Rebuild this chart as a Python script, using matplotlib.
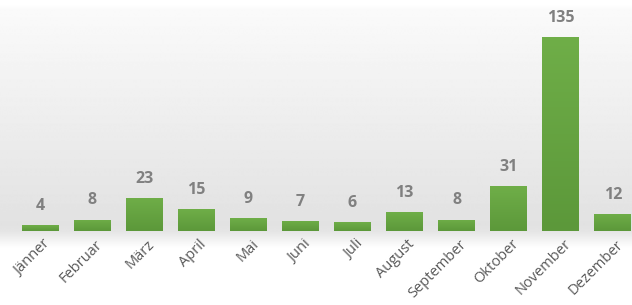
import numpy as np
import matplotlib
matplotlib.use('Agg')
import matplotlib.pyplot as plt
import matplotlib.transforms as mtransforms
from matplotlib.colors import LinearSegmentedColormap

months = ['Jänner', 'Februar', 'März', 'April', 'Mai', 'Juni', 'Juli',
          'August', 'September', 'Oktober', 'November', 'Dezember']
counts = [4, 8, 23, 15, 9, 7, 6, 13, 8, 31, 135, 12]

plt.rcParams['font.family'] = ['Open Sans', 'DejaVu Sans']

fig = plt.figure(figsize=(6.32, 3.05), dpi=100)
fig.patch.set_facecolor('white')

# background: grey vertical gradient that fades out just below the baseline
bg = fig.add_axes([0, 0, 1, 1], zorder=0)
bg.set_axis_off()
rows = np.linspace(0, 305, 306)
shade = np.interp(rows, [0, 5, 10, 225, 232, 248, 305],
                  [1.0, 1.0, 0.98, 0.885, 0.90, 1.0, 1.0])
bg.imshow(np.repeat(shade[:, None], 2, axis=1), cmap='gray', vmin=0, vmax=1,
          aspect='auto', extent=[0, 1, 0, 1], interpolation='bilinear')
bg.set_xlim(0, 1)
bg.set_ylim(0, 1)

ax = fig.add_axes([14 / 632, 74 / 305, 625 / 632, 201 / 305], zorder=1)
ax.patch.set_alpha(0)

x = np.arange(len(months))
bars = ax.bar(x, counts, width=0.71, color='#68a843', zorder=2)

green = LinearSegmentedColormap.from_list('g', ['#5c983a', '#6fae48'])
grad = np.linspace(0, 1, 64)[:, None]
for b in bars:
    b.set_facecolor('none')
    im = ax.imshow(grad, cmap=green, aspect='auto', origin='lower',
                   extent=[b.get_x(), b.get_x() + b.get_width(), 0, b.get_height()],
                   zorder=2)
    im.set_clip_path(b)

for xi, v in zip(x, counts):
    ax.annotate(str(v), (xi, v), xytext=(0, 8), textcoords='offset points',
                ha='center', va='bottom', fontsize=11.5, fontweight='bold',
                color='#808080')

ax.set_xlim(-0.5, len(months) - 0.5)
ax.set_ylim(0, 140)
ax.set_xticks(x)
ax.set_xticklabels(months, rotation=45, ha='right', va='center',
                   rotation_mode='anchor', fontsize=10.5, color='#595959')
ax.tick_params(axis='x', length=0, pad=8)
shift = mtransforms.ScaledTranslation(8 / 100, 0, fig.dpi_scale_trans)
for tick in ax.xaxis.get_major_ticks():
    tick.label1.set_transform(tick.label1.get_transform() + shift)
ax.set_yticks([])
for s in ax.spines.values():
    s.set_visible(False)

fig.savefig('out.png', dpi=100)
